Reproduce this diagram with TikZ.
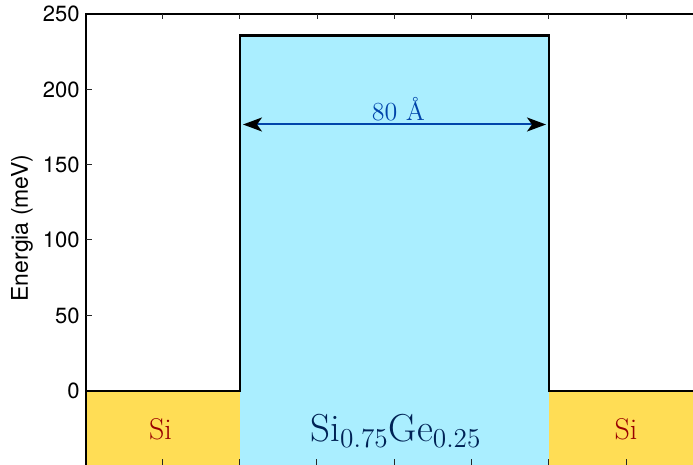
\documentclass[tikz,border=0pt]{standalone}
\usepackage{fontspec}
\newfontfamily\heros{TeX Gyre Heros}
\usetikzlibrary{arrows.meta}
\definecolor{barrierblue}{HTML}{AAEEFF}
\definecolor{sigold}{HTML}{FFDD55}
\definecolor{sired}{HTML}{990000}
\definecolor{sigenavy}{HTML}{002255}
\definecolor{arrowblue}{HTML}{0044AA}
\tikzset{
  ticklabel/.style={font=\heros\fontsize{11}{13}\selectfont, anchor=east, inner sep=0pt},
  axisline/.style={line width=1pt, black},
  tickline/.style={line width=0.5pt, black!85},
  profile/.style={line width=1.4pt, black, line join=miter},
  silabel/.style={font=\fontsize{15}{18}\selectfont, text=sired},
  widthtip/.tip={Stealth[length=9.5pt,width=7pt,inset=2.5pt,color=black]},
}
\begin{document}
\begin{tikzpicture}[x=0.5pt,y=-0.5pt]
\useasboundingbox (0,0) rectangle (693,465);
% fills
\fill[sigold] (86,391) rectangle (240,465);
\fill[sigold] (549,391) rectangle (693,465);
\fill[barrierblue] (240,35.5) rectangle (549,465);
% axes
\draw[axisline] (86,465) -- (86,14) -- (693,14);
% y ticks
\foreach \y in {90,165,240,316}
  \draw[tickline] (86,\y) -- (92,\y);
% top ticks
\foreach \x in {163,240,318,395,472,549,627}
  \draw[tickline] (\x,14) -- (\x,19.5);
% bottom ticks
\foreach \x in {163,240,317,395,472,549,627}
  \draw[tickline] (\x,465) -- (\x,459);
% profile
\draw[profile] (86,391) -- (240,391) -- (240,35.5) -- (549,35.5) -- (549,391) -- (693,391);
% tick labels
\node[ticklabel] (t250) at (80,14) {250};
\node[ticklabel] (t200) at (80,90) {200};
\node[ticklabel] (t150) at (80,165) {150};
\node[ticklabel] (t100) at (80,240) {100};
\node[ticklabel] (t50) at (80,316) {50};
\node[ticklabel] (t0) at (80,391) {0};
% y label
\node[font=\heros\fontsize{11.5}{13}\selectfont, rotate=90] (ylab) at (22,228) {Energia (meV)};
% width arrow
\coordinate (aL) at (243,124.5);
\coordinate (aR) at (546,124.5);
\draw[arrowblue, line width=1pt, widthtip-widthtip] (aL) -- (aR);
\node[font=\fontsize{13}{15}\selectfont, text=arrowblue] (wlab) at (398.5,109) {80~Å};
% material labels
\node[silabel] (siL) at (160.5,429) {Si};
\node[silabel] (siR) at (626,429) {Si};
\node[font=\fontsize{19.5}{22}\selectfont, text=sigenavy] (sige) at (396,431) {Si\textsubscript{0.75}Ge\textsubscript{0.25}};
\end{tikzpicture}
\end{document}
